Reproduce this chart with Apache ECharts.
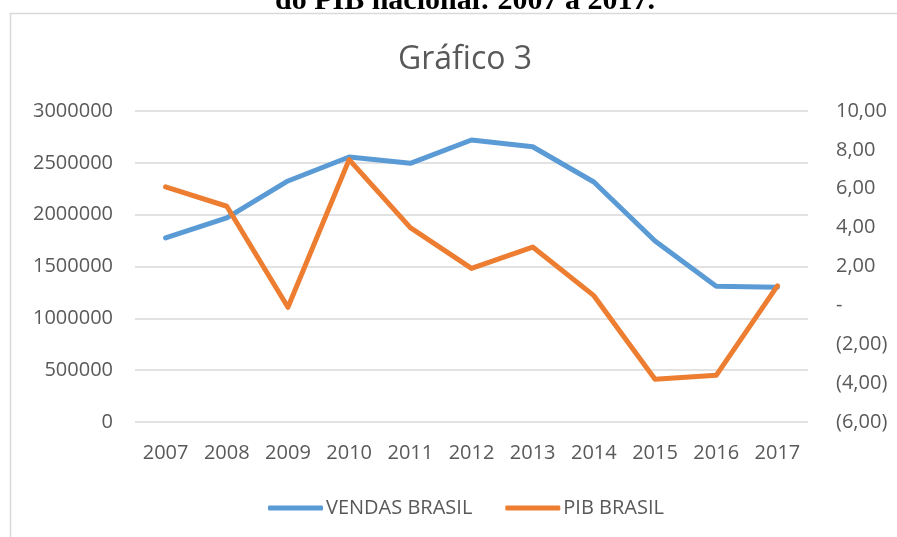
<!DOCTYPE html>
<html>
<head>
<meta charset="utf-8">
<script src="https://cdn.jsdelivr.net/npm/echarts@6/dist/echarts.min.js"></script>
<style>
  html, body { margin: 0; padding: 0; background: #fff; }
  #main { width: 897px; height: 537px; }
</style>
</head>
<body>
<div id="main"></div>
<script>
  var anos = ['2007', '2008', '2009', '2010', '2011', '2012', '2013', '2014', '2015', '2016', '2017'];
  var vendasBrasil = [1775000, 1968000, 2325000, 2556000, 2495000, 2720000, 2655000, 2315000, 1746000, 1310000, 1300000];
  var pibBrasil = [6.1, 5.1, -0.1, 7.5, 4.0, 1.9, 3.0, 0.5, -3.8, -3.6, 1.0];

  var cinza = '#595959';
  var fonte = '"Open Sans", "Noto Sans", sans-serif';

  // formato contábil do eixo da direita: 8,00 / - / (2,00)
  function fmtPib(v) {
    if (v === 0) return '-';
    var s = Math.abs(v).toFixed(2).replace('.', ',');
    return v < 0 ? '(' + s + ')' : s;
  }

  var chart = echarts.init(document.getElementById('main'));
  chart.setOption({
    animation: false,
    textStyle: { fontFamily: fonte },
    graphic: [
      {
        type: 'rect',
        shape: { x: 10.5, y: 13.5, width: 1000, height: 1000 },
        style: { fill: 'none', stroke: '#d9d9d9', lineWidth: 1.5 },
        silent: true
      },
      {
        type: 'text',
        x: 465, y: 16,
        style: {
          text: 'do PIB nacional: 2007 a 2017.',
          fontFamily: '"Liberation Serif", "Times New Roman", serif',
          fontWeight: 'bold', fontSize: 30, fill: '#000',
          align: 'center', verticalAlign: 'bottom'
        }
      }
    ],
    title: {
      text: 'Gráfico 3',
      left: 460, top: 39,
      textAlign: 'center',
      textStyle: { fontFamily: fonte, fontSize: 32, fontWeight: 'normal', color: cinza }
    },
    legend: {
      left: 263, top: 493,
      itemWidth: 55, itemHeight: 5, itemGap: 33,
      icon: 'roundRect',
      textStyle: { fontFamily: fonte, fontSize: 20, color: cinza, padding: [0, 0, 0, -2] },
      data: ['VENDAS BRASIL', 'PIB BRASIL']
    },
    grid: { left: 135, right: 89, top: 111, bottom: 115 },
    xAxis: {
      type: 'category',
      data: anos,
      axisLine: { show: false },
      axisTick: { show: false },
      axisLabel: { fontSize: 20, color: cinza, margin: 21 }
    },
    yAxis: [
      {
        type: 'value',
        min: 0, max: 3000000, interval: 500000,
        axisLine: { show: false },
        axisTick: { show: false },
        axisLabel: { fontSize: 20, color: cinza, margin: 22, formatter: function (v) { return String(v); } },
        splitLine: { lineStyle: { color: '#d9d9d9', width: 1.5 } }
      },
      {
        type: 'value',
        position: 'right',
        min: -6, max: 10, interval: 2,
        axisLine: { show: false },
        axisTick: { show: false },
        splitLine: { show: false },
        axisLabel: { fontSize: 20, color: cinza, margin: 28, formatter: fmtPib }
      }
    ],
    series: [
      {
        name: 'VENDAS BRASIL',
        type: 'line',
        data: vendasBrasil,
        yAxisIndex: 0,
        symbol: 'none',
        itemStyle: { color: '#5B9BD5' },
        lineStyle: { color: '#5B9BD5', width: 5, join: 'round', cap: 'round' }
      },
      {
        name: 'PIB BRASIL',
        type: 'line',
        data: pibBrasil,
        yAxisIndex: 1,
        symbol: 'none',
        itemStyle: { color: '#ED7D31' },
        lineStyle: { color: '#ED7D31', width: 5, join: 'round', cap: 'round' }
      }
    ]
  });
</script>
</body>
</html>
